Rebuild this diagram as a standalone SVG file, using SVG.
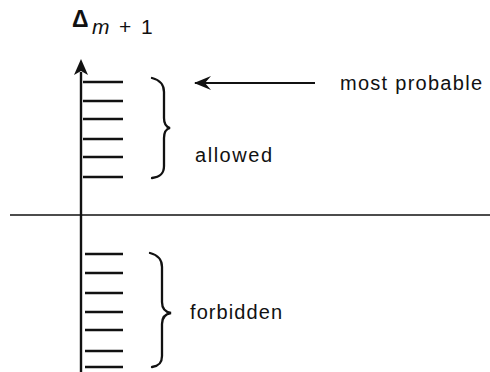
<svg xmlns="http://www.w3.org/2000/svg" width="490" height="372" viewBox="0 0 490 372">
<style>
.t{font-family:"Liberation Sans",Arial,sans-serif;font-size:20px;fill:#111}
.ln{stroke:#111;fill:none}
.tick{stroke:#111;stroke-width:2.4}
.br{stroke:#111;stroke-width:2.3;fill:none;stroke-linecap:round}
</style>
<defs>
<marker id="ah" viewBox="0 0 18 14" refX="16" refY="7" markerWidth="18" markerHeight="14" markerUnits="userSpaceOnUse" orient="auto">
<path d="M17,7 L0,0 L6,7 L0,14 Z" fill="#111"/>
</marker>
</defs>
<g id="title">
<text x="72" y="27" style="font-family:'Liberation Sans',Arial,sans-serif;font-size:23px;font-weight:bold;fill:#111">Δ</text>
<text x="92" y="34" class="t" style="font-style:italic;font-size:21px">m</text>
<text x="119" y="34" class="t" style="font-size:21px">+</text>
<text x="141" y="34" class="t" style="font-size:21px">1</text>
</g>
<g id="connectors">
<line class="ln" x1="81" y1="372" x2="81" y2="72" stroke-width="2.4"/>
<path d="M81,59 L74,75 L81,71 L88,75 Z" fill="#111"/>
<line class="ln" x1="10" y1="215" x2="490" y2="215" stroke-width="1.6"/>
<line class="ln" x1="315" y1="83" x2="195" y2="83" stroke-width="1.8" marker-end="url(#ah)"/>
</g>
<g id="allowed-levels">
<line class="tick" x1="83" y1="82" x2="123" y2="82"/>
<line class="tick" x1="83" y1="101" x2="123" y2="101"/>
<line class="tick" x1="83" y1="119" x2="123" y2="119"/>
<line class="tick" x1="83" y1="139" x2="123" y2="139"/>
<line class="tick" x1="83" y1="157" x2="123" y2="157"/>
<line class="tick" x1="83" y1="177" x2="123" y2="177"/>
</g>
<g id="forbidden-levels">
<line class="tick" x1="85" y1="254" x2="123" y2="254"/>
<line class="tick" x1="85" y1="273" x2="123" y2="273"/>
<line class="tick" x1="85" y1="293" x2="123" y2="293"/>
<line class="tick" x1="85" y1="312" x2="123" y2="312"/>
<line class="tick" x1="85" y1="330" x2="123" y2="330"/>
<line class="tick" x1="85" y1="351" x2="123" y2="351"/>
<line class="tick" x1="85" y1="367" x2="123" y2="367"/>
</g>
<g id="allowed-brace">
<path class="br" d="M152,78 C160,80 164,84 164,92 L164,118 C164,124 166,127 170,128 C166,129 164,132 164,138 L164,166 C164,174 160,177 152,178"/>
</g>
<g id="forbidden-brace">
<path class="br" d="M150,253 C158,255 162,259 162,267 L162,302 C162,308 165,312 171,313 C165,314 162,318 162,324 L162,356 C162,363 159,366 152,367"/>
</g>
<g id="labels">
<text x="340" y="90" class="t" textLength="142" lengthAdjust="spacing">most probable</text>
<text x="195" y="162" class="t" textLength="77" lengthAdjust="spacing">allowed</text>
<text x="190" y="319" class="t" textLength="92" lengthAdjust="spacing">forbidden</text>
</g>
</svg>
